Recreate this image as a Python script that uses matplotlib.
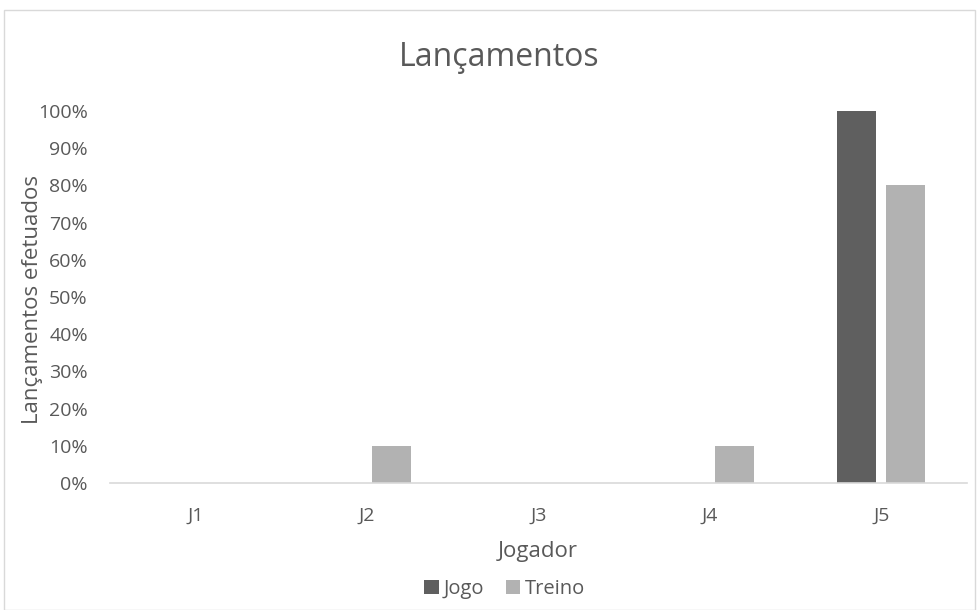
import matplotlib.pyplot as plt
import numpy as np
from matplotlib.patches import Rectangle

players = ['J1', 'J2', 'J3', 'J4', 'J5']
jogo = [0.0, 0.0, 0.0, 0.0, 1.0]
treino = [0.0, 0.1, 0.0, 0.1, 0.8]
yticks = [0.0, 0.1, 0.2, 0.3, 0.4, 0.5, 0.6, 0.7, 0.8, 0.9, 1.0]

TXT = '#595959'
plt.rcParams['font.family'] = ['Open Sans', 'DejaVu Sans']

fig = plt.figure(figsize=(9.79, 6.1), dpi=100)
# light frame around the whole chart
fig.patches.append(Rectangle((4/979, 0), 971/979, 600/610, transform=fig.transFigure,
                             fill=False, edgecolor='#d9d9d9', linewidth=1))

ax = fig.add_axes([110/979, 1-483/610, 857/979, 372/610])
x = np.arange(len(players))
w = 0.228
off = 0.143
ax.bar(x - off, jogo, w, color='#5f5f5f', label='Jogo')
ax.bar(x + off, treino, w, color='#b2b2b2', label='Treino')

ax.set_xlim(-0.5, len(players) - 0.5)
ax.set_ylim(0, 1.0)
ax.set_yticks(yticks)
ax.set_yticklabels(['%d%%' % round(v * 100) for v in yticks])
ax.set_xticks(x)
ax.set_xticklabels(players)
ax.tick_params(length=0, colors=TXT, labelsize=14)
ax.tick_params(axis='x', pad=17)
ax.tick_params(axis='y', pad=16)
for s in ['top', 'right', 'left']:
    ax.spines[s].set_visible(False)
ax.spines['bottom'].set_color('#d9d9d9')
ax.spines['bottom'].set_linewidth(1.2)

fig.text(499/979, 1-57/610, 'Lançamentos', ha='center', va='center', fontsize=23, color=TXT)
fig.text(33/979, 1-300/610, 'Lançamentos efetuados', ha='center', va='center',
         rotation=90, fontsize=16, color=TXT)
fig.text(538/979, 1-552/610, 'Jogador', ha='center', va='center', fontsize=16, color=TXT)

fig.legend(loc='center', bbox_to_anchor=(505/979, 1-589/610), ncol=2, frameon=False,
           fontsize=14.5, labelcolor=TXT, handlelength=0.7, handleheight=0.7,
           handletextpad=0.25, columnspacing=1.1, borderpad=0)

fig.savefig('out.png', dpi=100)
